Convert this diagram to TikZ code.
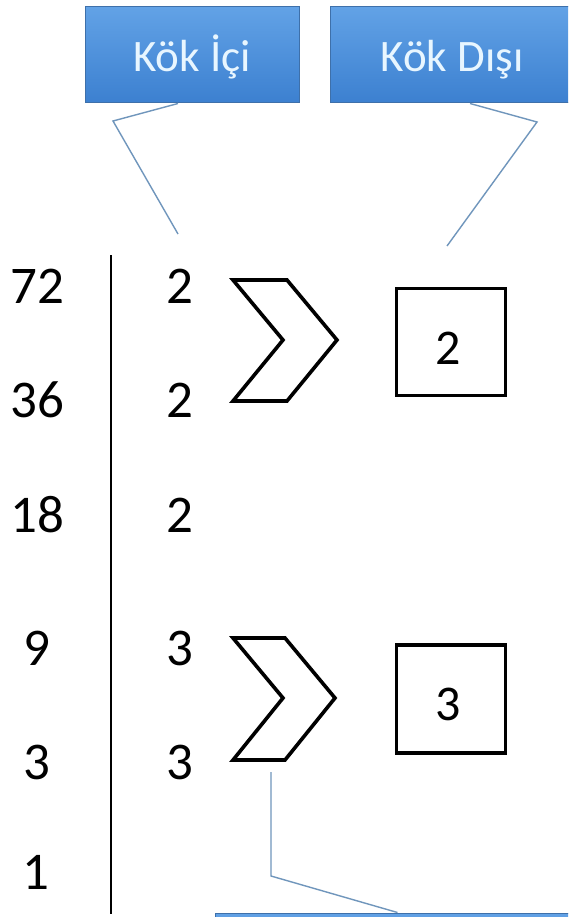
\documentclass[tikz,border=0pt]{standalone}
\usepackage{fontspec}
\setmainfont{Carlito}
\usetikzlibrary{calc}
\definecolor{boxtop}{RGB}{98,162,230}
\definecolor{boxbot}{RGB}{60,128,208}
\definecolor{boxline}{RGB}{62,112,170}
\definecolor{boxtxt}{RGB}{232,246,255}
\definecolor{callc}{RGB}{112,150,188}
\begin{document}
\begin{tikzpicture}[x=1pt,y=-1pt,
  num/.style={inner sep=0pt, font=\fontsize{53}{60}\selectfont},
  sqnum/.style={inner sep=0pt, font=\fontsize{50}{58}\selectfont},
  bluebox/.style={draw=boxline, line width=1pt, top color=boxtop, bottom color=boxbot, inner sep=0pt},
  boxtext/.style={inner sep=0pt, text=boxtxt, font=\fontsize{45}{52}\selectfont, anchor=base},
  callout/.style={draw=callc, line width=1.4pt},
  shapeline/.style={draw=black, line width=3.6pt, line join=miter},
  divider/.style={draw=black, line width=2.6pt}]
\useasboundingbox (0,0) rectangle (568,917);
\clip (0,0) rectangle (568,917);
\fill[white] (0,0) rectangle (568,917);

% header boxes
\node[bluebox, minimum width=214, minimum height=96] (kici) at (192,55) {};
\node[boxtext] (kicit) at (192,72) {Kök İçi};
\node[bluebox, minimum width=240, minimum height=96] (kdisi) at (450,55) {};
\node[boxtext] (kdisit) at (452,72) {Kök Dışı};
% bottom box (cut off)
\node[bluebox, minimum width=370, minimum height=40] (bbox) at (400,933) {};

% callouts
\coordinate (c1b) at (113,121);
\coordinate (c1t) at (178,234);
\draw[callout] ($(kici.south)+(-14,0)$) -- (c1b) -- (c1t);
\coordinate (c2b) at (537,122);
\coordinate (c2t) at (447,246);
\draw[callout] ($(kdisi.south)+(20,0)$) -- (c2b) -- (c2t);
\coordinate (c3t) at (271,772);
\coordinate (c3b) at (271,876);
\draw[callout] (c3t) -- (c3b) -- ($(bbox.north west)+(183,0)$);

% divider
\coordinate (dtop) at (111,255);
\coordinate (dbot) at (111,914);
\draw[divider] (dtop) -- (dbot);

% left column
\node[num] (l1) at (37,286) {72};
\node[num] (l2) at (37,400) {36};
\node[num] (l3) at (37,515) {18};
\node[num] (l4) at (37,648) {9};
\node[num] (l5) at (37,762) {3};
\node[num] (l6) at (36,872) {1};
% right column
\node[num] (r1) at (180,286) {2};
\node[num] (r2) at (180,400) {2};
\node[num] (r3) at (180,515) {2};
\node[num] (r4) at (180,648) {3};
\node[num] (r5) at (180,762) {3};

% chevrons
\draw[shapeline] (233,280) -- (287,280) -- (337,340) -- (287,401) -- (233,401) -- (283,340) -- cycle;
\draw[shapeline] (233,638) -- (285,638) -- (335,698) -- (285,760) -- (233,760) -- (283,698) -- cycle;

% result squares
\node[shapeline, minimum width=109, minimum height=107, inner sep=0pt] (s1) at (451,342) {};
\node[sqnum] (s1t) at (448,348) {2};
\node[shapeline, minimum width=109, minimum height=108, inner sep=0pt] (s2) at (451,699) {};
\node[sqnum] (s2t) at (448,704) {3};
\end{tikzpicture}
\end{document}
